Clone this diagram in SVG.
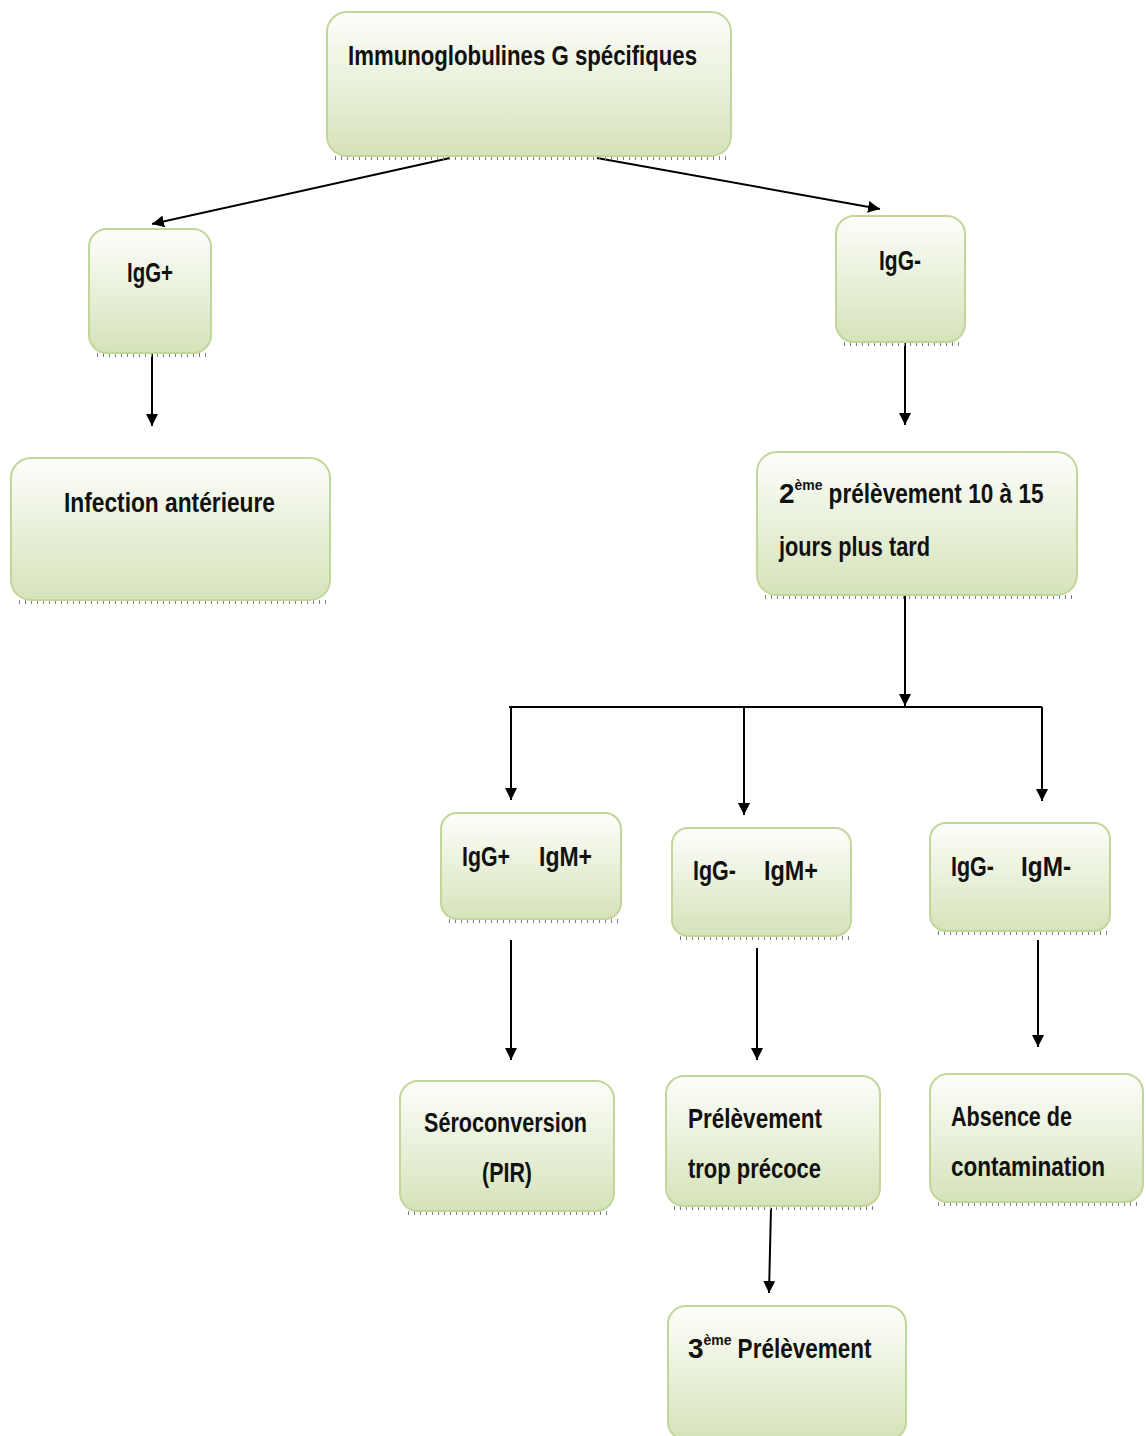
<svg xmlns="http://www.w3.org/2000/svg" width="1146" height="1436" viewBox="0 0 1146 1436">
<defs>
<linearGradient id="g" x1="0" y1="0" x2="0" y2="1">
<stop offset="0" stop-color="#fdfefb"/>
<stop offset="1" stop-color="#d5e3ba"/>
</linearGradient>
<marker id="a" viewBox="0 0 10 10" refX="10" refY="5" markerWidth="12" markerHeight="12" markerUnits="userSpaceOnUse" orient="auto">
<path d="M0,0 L10,5 L0,10 z" fill="#000"/>
</marker>
</defs>
<style>
.box{fill:url(#g);stroke:#c2d69a;stroke-width:2}
.sh{fill:none;stroke:#7f7f7f;stroke-width:4;stroke-dasharray:1 5}
.t{font-family:"Liberation Sans Narrow","Liberation Sans",Arial,sans-serif;font-weight:bold;font-size:28px;fill:#111}
.s{font-size:14px}
.c{fill:none;stroke:#000;stroke-width:2;marker-end:url(#a)}
.l{fill:none;stroke:#000;stroke-width:2}
</style>
<rect width="1146" height="1436" fill="#fff"/>

<g id="connectors">
<line class="c" x1="450" y1="158" x2="152" y2="224"/>
<line class="c" x1="597" y1="158" x2="880" y2="209"/>
<line class="c" x1="152" y1="352" x2="152" y2="426"/>
<line class="c" x1="905" y1="340" x2="905" y2="425"/>
<line class="c" x1="905" y1="592" x2="905" y2="706"/>
<line class="l" x1="509" y1="707" x2="1042" y2="707"/>
<line class="c" x1="511" y1="707" x2="511" y2="800"/>
<line class="c" x1="744" y1="707" x2="744" y2="815"/>
<line class="c" x1="1042" y1="707" x2="1042" y2="801"/>
<line class="c" x1="511" y1="940" x2="511" y2="1060"/>
<line class="c" x1="757" y1="948" x2="757" y2="1060"/>
<line class="c" x1="1038" y1="940" x2="1038" y2="1047"/>
<line class="c" x1="771" y1="1208" x2="769" y2="1293"/>
</g>

<g id="n1">
<line class="sh" x1="335" y1="158" x2="728" y2="158"/>
<rect class="box" x="327" y="12" width="404" height="144" rx="20"/>
<text class="t" x="348" y="65" textLength="349" lengthAdjust="spacingAndGlyphs">Immunoglobulines  G spécifiques</text>
</g>

<g id="n2">
<line class="sh" x1="97" y1="355" x2="209" y2="355"/>
<rect class="box" x="89" y="229" width="122" height="124" rx="18"/>
<text class="t" x="127" y="282" textLength="46" lengthAdjust="spacingAndGlyphs">IgG+</text>
</g>

<g id="n3">
<line class="sh" x1="844" y1="344" x2="963" y2="344"/>
<rect class="box" x="836" y="216" width="129" height="126" rx="18"/>
<text class="t" x="879" y="270" textLength="42" lengthAdjust="spacingAndGlyphs">IgG-</text>
</g>

<g id="n4">
<line class="sh" x1="19" y1="602" x2="328" y2="602"/>
<rect class="box" x="11" y="458" width="319" height="142" rx="20"/>
<text class="t" x="64" y="512" textLength="211" lengthAdjust="spacingAndGlyphs">Infection antérieure</text>
</g>

<g id="n5">
<line class="sh" x1="765" y1="597" x2="1075" y2="597"/>
<rect class="box" x="757" y="452" width="320" height="143" rx="20"/>
<text class="t" x="779" y="503">2<tspan class="s" dy="-13">ème</tspan><tspan dx="6" dy="13" textLength="215" lengthAdjust="spacingAndGlyphs">prélèvement 10 à 15</tspan></text>
<text class="t" x="779" y="556" textLength="151" lengthAdjust="spacingAndGlyphs">jours plus tard</text>
</g>

<g id="n6">
<line class="sh" x1="449" y1="921" x2="619" y2="921"/>
<rect class="box" x="441" y="813" width="180" height="106" rx="16"/>
<text class="t" x="462" y="866" textLength="48" lengthAdjust="spacingAndGlyphs">IgG+</text>
<text class="t" x="539" y="866" textLength="53" lengthAdjust="spacingAndGlyphs">IgM+</text>
</g>

<g id="n7">
<line class="sh" x1="680" y1="938" x2="849" y2="938"/>
<rect class="box" x="672" y="828" width="179" height="108" rx="16"/>
<text class="t" x="693" y="880" textLength="43" lengthAdjust="spacingAndGlyphs">IgG-</text>
<text class="t" x="764" y="880" textLength="54" lengthAdjust="spacingAndGlyphs">IgM+</text>
</g>

<g id="n8">
<line class="sh" x1="938" y1="933" x2="1108" y2="933"/>
<rect class="box" x="930" y="823" width="180" height="108" rx="16"/>
<text class="t" x="951" y="876" textLength="43" lengthAdjust="spacingAndGlyphs">IgG-</text>
<text class="t" x="1021" y="876" textLength="50" lengthAdjust="spacingAndGlyphs">IgM-</text>
</g>

<g id="n9">
<line class="sh" x1="408" y1="1213" x2="612" y2="1213"/>
<rect class="box" x="400" y="1081" width="214" height="130" rx="18"/>
<text class="t" x="424" y="1132" textLength="163" lengthAdjust="spacingAndGlyphs">Séroconversion</text>
<text class="t" x="482" y="1182" textLength="50" lengthAdjust="spacingAndGlyphs">(PIR)</text>
</g>

<g id="n10">
<line class="sh" x1="674" y1="1208" x2="878" y2="1208"/>
<rect class="box" x="666" y="1076" width="214" height="130" rx="18"/>
<text class="t" x="688" y="1128" textLength="134" lengthAdjust="spacingAndGlyphs">Prélèvement</text>
<text class="t" x="688" y="1178" textLength="133" lengthAdjust="spacingAndGlyphs">trop précoce</text>
</g>

<g id="n11">
<line class="sh" x1="938" y1="1204" x2="1141" y2="1204"/>
<rect class="box" x="930" y="1074" width="213" height="128" rx="18"/>
<text class="t" x="951" y="1126" textLength="121" lengthAdjust="spacingAndGlyphs">Absence de</text>
<text class="t" x="951" y="1176" textLength="154" lengthAdjust="spacingAndGlyphs">contamination</text>
</g>

<g id="n12">
<rect class="box" x="668" y="1306" width="238" height="134" rx="18"/>
<text class="t" x="688" y="1358">3<tspan class="s" dy="-13">ème</tspan><tspan dx="6" dy="13" textLength="134" lengthAdjust="spacingAndGlyphs">Prélèvement</tspan></text>
</g>
</svg>
